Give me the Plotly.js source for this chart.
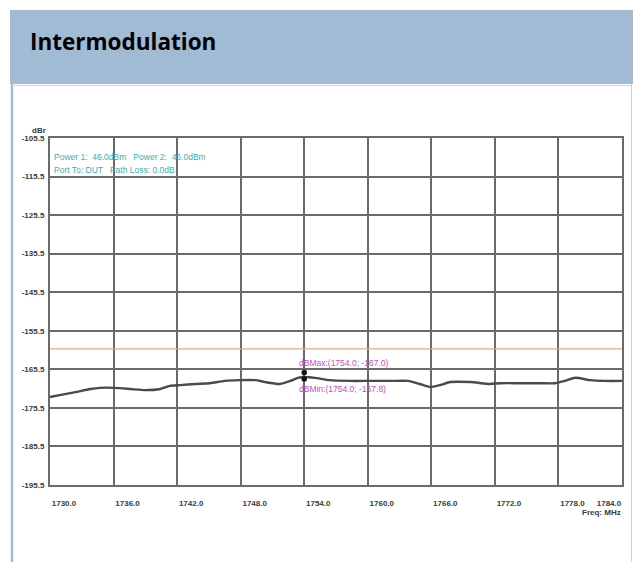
<!DOCTYPE html>
<html>
<head>
<meta charset="utf-8">
<script src="https://cdn.plot.ly/plotly-3.0.1.min.js"></script>
<style>html,body{margin:0;padding:0;background:#fff;}#chart{width:633px;height:562px;}</style>
</head>
<body>
<div id="chart"></div>
<script>
// ---- data ----
const freqMHz = [1730.0,1730.9,1732.4,1733.8,1734.7,1736.1,1737.6,1739.0,1740.4,1741.3,1742.3,1743.7,1745.1,1746.5,1747.9,1749.4,1750.3,1751.7,1752.7,1753.4,1754.0,1755.0,1756.4,1758.3,1760.2,1762.1,1763.8,1764.9,1765.9,1766.8,1767.8,1769.7,1771.5,1772.5,1774.4,1776.3,1777.7,1778.6,1779.6,1781.0,1782.4,1784.0];
const imLevel = [-172.7,-172.2,-171.4,-170.6,-170.3,-170.3,-170.6,-170.9,-170.6,-169.8,-169.6,-169.3,-169.1,-168.5,-168.3,-168.3,-168.8,-169.3,-168.5,-167.7,-167.5,-167.7,-168.3,-168.5,-168.5,-168.5,-168.5,-169.3,-170.1,-169.6,-168.8,-168.8,-169.3,-169.1,-169.1,-169.1,-169.1,-168.5,-167.7,-168.3,-168.5,-168.5];
const limitFreq = [1730.0, 1784.0];
const limitLevel = [-160.2, -160.2];
const markerFreq = [1754.0, 1754.0];
const markerLevel = [-166.3, -168.0];
const markerText = ['dBMax:(1754.0; -167.0)', 'dBMin:(1754.0; -167.8)'];
const yTickVals = [-195.5,-185.5,-175.5,-165.5,-155.5,-145.5,-135.5,-125.5,-115.5,-105.5];
const yTickText = ['-195.5','-185.5','-175.5','-165.5','-155.5','-145.5','-135.5','-125.5','-115.5','-105.5'];
const xTickVals = [1730,1736,1742,1748,1754,1760,1766,1772,1778];
const xTickText = ['1730.0','1736.0','1742.0','1748.0','1754.0','1760.0','1766.0','1772.0','1778.0'];
const xEndVals = [1784];
const xEndText = ['1784.0'];
const infoLines = ['Power 1:  46.0dBm   Power 2:  46.0dBm', 'Port To: DUT   Path Loss: 0.0dB'];

// ---- geometry helpers (pixel -> paper) ----
const L = 50, R = 622, T = 138, B = 485, W = 633, H = 562;
const px = x => (x - L) / (R - L);
const py = y => (B - y) / (B - T);

const tickFont = {family: 'Liberation Sans, Arial, sans-serif', size: 8, color: '#3a3a3a', weight: 'bold'};

const traces = [
  {x: limitFreq, y: limitLevel, mode: 'lines', line: {color: '#E9A58F', width: 1.2}, hoverinfo: 'skip'},
  {x: freqMHz, y: imLevel, mode: 'lines', line: {color: '#4a4a4a', width: 2.4, shape: 'spline', smoothing: 0.6}},
  {x: markerFreq, y: markerLevel, mode: 'markers', marker: {color: '#111', size: 5.5, symbol: 'circle'}},
  {x: xEndVals, y: [-195.5], xaxis: 'x2', mode: 'markers', marker: {opacity: 0}, hoverinfo: 'skip'}
];

const smallFont = c => ({family: 'Liberation Sans, Arial, sans-serif', size: 8.5, color: c});

const annotations = [
  {xref: 'x', yref: 'y', x: markerFreq[0], y: markerLevel[0], text: markerText[0], showarrow: false, xanchor: 'left', xshift: -7, yshift: 9,
   font: smallFont('#C050C0')},
  {xref: 'x', yref: 'y', x: markerFreq[1], y: markerLevel[1], text: markerText[1], showarrow: false, xanchor: 'left', xshift: -7, yshift: -10,
   font: smallFont('#C050C0')},
  {xref: 'paper', yref: 'paper', x: px(52), y: py(157), text: infoLines[0], showarrow: false, xanchor: 'left', yanchor: 'middle',
   font: smallFont('#3AAFB0')},
  {xref: 'paper', yref: 'paper', x: px(52), y: py(170), text: infoLines[1], showarrow: false, xanchor: 'left', yanchor: 'middle',
   font: smallFont('#3AAFB0')},
  {xref: 'paper', yref: 'paper', x: px(48), y: py(130), text: 'dBr', showarrow: false, xanchor: 'right', yanchor: 'middle',
   font: tickFont},
  {xref: 'paper', yref: 'paper', x: px(623), y: py(512), text: 'Freq: MHz', showarrow: false, xanchor: 'right', yanchor: 'middle',
   font: tickFont}
];

const shapes = [
  {type: 'rect', xref: 'paper', yref: 'paper', x0: px(10), x1: px(634), y0: py(84), y1: py(10), fillcolor: '#A1BBD4', line: {width: 0}, layer: 'below'},
  {type: 'line', xref: 'paper', yref: 'paper', x0: px(12), x1: px(12), y0: py(84), y1: py(563), line: {color: '#A1BBD4', width: 2.5}},
  {type: 'line', xref: 'paper', yref: 'paper', x0: px(631.5), x1: px(631.5), y0: py(84), y1: py(563), line: {color: '#C5D5E5', width: 1}},
  {type: 'line', xref: 'paper', yref: 'paper', x0: px(12), x1: px(632), y0: py(85.5), y1: py(85.5), line: {color: '#C5D5E5', width: 1}}
];

const layout = {
  width: W, height: H,
  margin: {l: L, r: W - R, t: T, b: H - B, pad: 0},
  paper_bgcolor: '#ffffff', plot_bgcolor: '#ffffff',
  showlegend: false,
  title: {text: '<b>Intermodulation</b>', x: 30 / W, xanchor: 'left', xref: 'container', y: 1 - 42 / H, yref: 'container', yanchor: 'middle',
          font: {family: 'Open Sans, Noto Sans, sans-serif', size: 22.5, color: '#000'}},
  xaxis: {range: [1730, 1784], tickmode: 'array', tickvals: xTickVals, ticktext: xTickText, ticklabelshift: 14, ticklabelstandoff: 9,
          showgrid: true, gridcolor: '#6a6a6a', gridwidth: 2, zeroline: false, showline: true, linecolor: '#6a6a6a', linewidth: 2, mirror: true,
          ticks: '', tickfont: tickFont, fixedrange: true},
  xaxis2: {range: [1730, 1784], overlaying: 'x', side: 'bottom', tickmode: 'array', tickvals: xEndVals, ticktext: xEndText, ticklabelshift: -13, ticklabelstandoff: 12,
          showgrid: false, zeroline: false, showline: false, ticks: '', tickfont: tickFont, fixedrange: true},
  yaxis: {range: [-195.5, -105.5], tickmode: 'array', tickvals: yTickVals, ticktext: yTickText, ticklabelstandoff: 2,
          showgrid: true, gridcolor: '#6a6a6a', gridwidth: 2, zeroline: false, showline: true, linecolor: '#6a6a6a', linewidth: 2, mirror: true,
          ticks: '', tickfont: tickFont, fixedrange: true},
  annotations: annotations,
  shapes: shapes
};

Plotly.newPlot('chart', traces, layout, {displayModeBar: false, staticPlot: true});
</script>
</body>
</html>
